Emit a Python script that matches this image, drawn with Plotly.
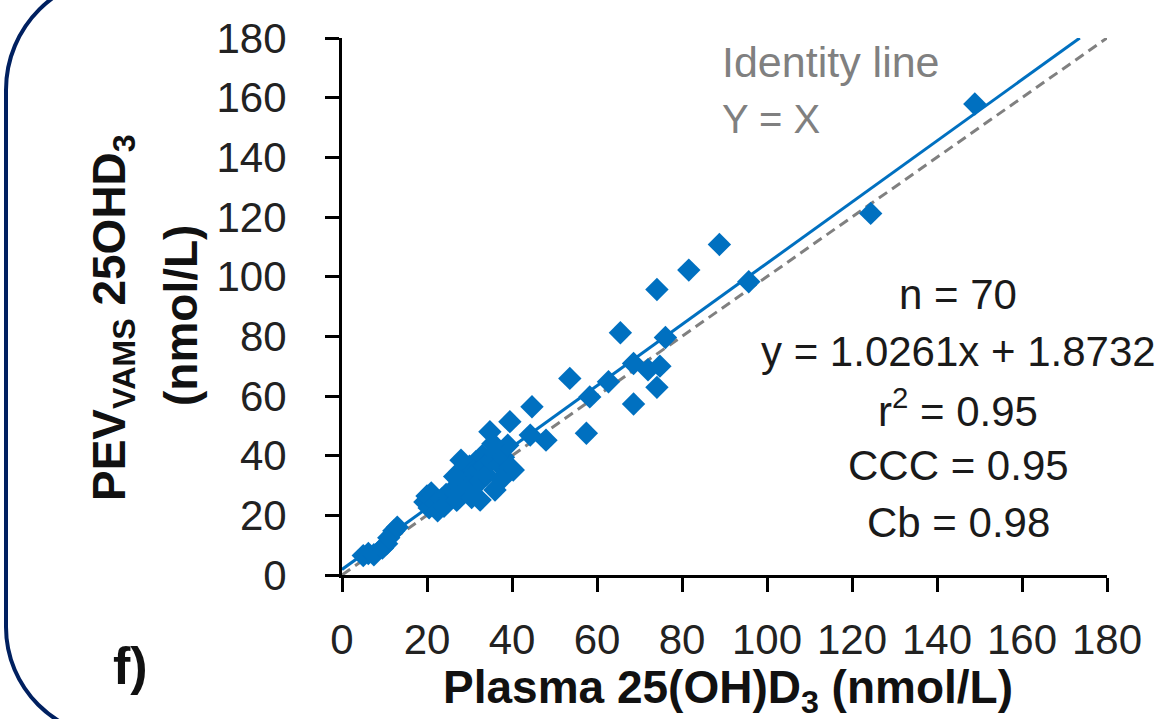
import plotly.graph_objects as go

# ---- data ----
plasma = [148.9, 124.4, 95.7, 88.8, 81.6, 74.1, 65.5, 76.1, 68.6, 72.0, 74.8, 74.1, 68.6,
          53.6, 58.3, 62.7, 57.5, 44.7, 48.0, 44.3, 39.5, 34.8, 40.3, 36.0, 32.5,
          5.0, 6.2, 7.5, 9.5, 10.5, 11.0, 12.2, 13.0,
          19.5, 20.0, 20.5, 21.0, 22.0, 22.5, 23.5, 24.0, 24.5, 25.5, 26.0, 27.0,
          27.5, 28.0, 28.5, 29.0, 29.5, 30.0, 30.5, 31.0, 31.5, 32.0, 32.5, 33.0, 33.5,
          34.0, 35.0, 36.0, 37.0, 38.0, 39.0, 39.5, 28.0, 35.5, 37.5, 30.5, 26.5]
pev = [157.9, 121.2, 98.3, 110.8, 102.2, 95.7, 81.2, 79.6, 70.9, 68.8, 70.0, 62.9, 57.3,
       65.9, 59.7, 64.8, 47.5, 56.4, 45.2, 46.9, 51.4, 48.0, 35.2, 28.5, 25.1,
       6.5, 7.2, 6.8, 9.0, 10.5, 12.5, 14.8, 16.0,
       24.5, 26.5, 22.5, 27.5, 24.0, 21.5, 25.5, 23.0, 27.0, 26.0, 28.5, 25.0,
       30.0, 32.5, 28.0, 34.5, 31.0, 36.5, 33.0, 29.5, 38.0, 35.0, 31.5, 40.0, 36.5,
       33.5, 38.5, 41.0, 37.0, 39.5, 43.5, 36.0, 38.5, 44.0, 32.0, 26.0, 33.0]
slope = 1.0261
intercept = 1.8732
axis_max = 180
tick_vals = [0, 20, 40, 60, 80, 100, 120, 140, 160, 180]
stats_lines = ["n = 70", "y = 1.0261x + 1.8732", "r<sup>2</sup> = 0.95", "CCC = 0.95", "Cb = 0.98"]

# ---- layout geometry (pixels) ----
W, H = 1176, 719
L, R, T, B = 342, 1107, 38, 575


def px(xp):
    return (xp - L) / (R - L)


def py(yp):
    return (B - yp) / (B - T)


BLUE = "#0070C0"
GRAY = "#808080"
FONT = "Liberation Sans, Arial, sans-serif"

fig = go.Figure()

# identity line
fig.add_trace(go.Scatter(x=[0, axis_max], y=[0, axis_max], mode="lines",
                         line=dict(color=GRAY, width=3, dash="10px,6px"),
                         hoverinfo="skip", showlegend=False))
# regression line
x_end = (axis_max - intercept) / slope
fig.add_trace(go.Scatter(x=[0, x_end], y=[intercept, slope * x_end + intercept], mode="lines",
                         line=dict(color=BLUE, width=3), hoverinfo="skip", showlegend=False))
# points
fig.add_trace(go.Scatter(x=plasma, y=pev, mode="markers",
                         marker=dict(symbol="diamond", size=18, color=BLUE, line=dict(width=0)),
                         showlegend=False))

axis_common = dict(range=[0, axis_max], tickvals=tick_vals, showgrid=False, zeroline=False,
                   showline=True, linecolor="black", linewidth=3, ticks="outside",
                   ticklen=14, tickwidth=3, tickcolor="black",
                   tickfont=dict(family=FONT, size=42, color="#222222"), fixedrange=True)
fig.update_xaxes(**axis_common, ticklabelstandoff=12)
fig.update_yaxes(**axis_common, ticklabelstandoff=30)

annotations = []
# stats text block
stats_y = [294, 351, 408, 465, 522]
for txt, yy in zip(stats_lines, stats_y):
    annotations.append(dict(text=txt, x=px(958), y=py(yy), xref="paper", yref="paper",
                            xanchor="center", yanchor="middle", showarrow=False,
                            font=dict(family=FONT, size=42, color="#1a1a1a")))
# identity label
annotations.append(dict(text="Identity line", x=px(720), y=py(62), xref="paper", yref="paper",
                        xanchor="left", yanchor="middle", showarrow=False,
                        font=dict(family=FONT, size=43, color=GRAY)))
annotations.append(dict(text="Y = X", x=px(720), y=py(119), xref="paper", yref="paper",
                        xanchor="left", yanchor="middle", showarrow=False,
                        font=dict(family=FONT, size=40, color=GRAY)))
# axis titles
annotations.append(dict(text="<b>Plasma 25(OH)D<sub>3</sub> (nmol/L)</b>", x=px(728), y=py(690),
                        xref="paper", yref="paper", xanchor="center", yanchor="middle",
                        showarrow=False, font=dict(family=FONT, size=46, color="#111111")))
annotations.append(dict(text="<b>PEV<sub>VAMS</sub> 25OHD<sub>3</sub></b>", x=px(112), y=py(318),
                        xref="paper", yref="paper", xanchor="center", yanchor="middle",
                        textangle=-90, showarrow=False,
                        font=dict(family=FONT, size=46, color="#111111")))
annotations.append(dict(text="<b>(nmol/L)</b>", x=px(181), y=py(316),
                        xref="paper", yref="paper", xanchor="center", yanchor="middle",
                        textangle=-90, showarrow=False,
                        font=dict(family=FONT, size=46, color="#111111")))
# panel label
annotations.append(dict(text="<b>f)</b>", x=px(130), y=py(666), xref="paper", yref="paper",
                        xanchor="center", yanchor="middle", showarrow=False,
                        font=dict(family=FONT, size=52, color="#111111")))

# rounded panel border (left part visible)
k = 0.5523
r1, r2 = 114, 110
xl, ytop, ybot = 6, -24, 737
path = (f"M {px(1400)},{py(ytop)} L {px(xl + r1)},{py(ytop)} "
        f"C {px(xl + r1 - k * r1)},{py(ytop)} {px(xl)},{py(ytop + r1 - k * r1)} {px(xl)},{py(ytop + r1)} "
        f"L {px(xl)},{py(ybot - r2)} "
        f"C {px(xl)},{py(ybot - r2 + k * r2)} {px(xl + r2 - k * r2)},{py(ybot)} {px(xl + r2)},{py(ybot)} "
        f"L {px(1400)},{py(ybot)}")

fig.update_layout(
    width=W, height=H, autosize=False,
    margin=dict(l=L, r=W - R, t=T, b=H - B, pad=0),
    paper_bgcolor="white", plot_bgcolor="white",
    annotations=annotations,
    shapes=[dict(type="path", path=path, xref="paper", yref="paper",
                 line=dict(color="#002060", width=4), layer="above")],
    showlegend=False,
)

fig.write_html("out.html", config={"displayModeBar": False},
               post_script="document.body.style.margin='0px';document.body.style.overflow='hidden';")
